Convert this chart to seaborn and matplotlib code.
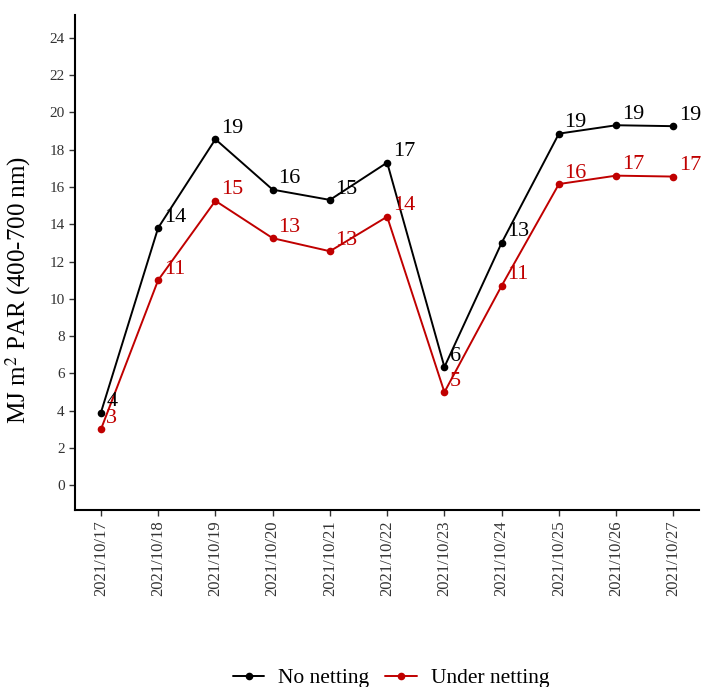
import numpy as np
import pandas as pd
import matplotlib
matplotlib.use("Agg")
import matplotlib.pyplot as plt
import seaborn as sns

dates = ["2021/10/17", "2021/10/18", "2021/10/19", "2021/10/20", "2021/10/21",
         "2021/10/22", "2021/10/23", "2021/10/24", "2021/10/25", "2021/10/26", "2021/10/27"]
no_netting = [3.9, 13.8, 18.55, 15.85, 15.3, 17.3, 6.35, 13.0, 18.85, 19.3, 19.25]
under_netting = [3.0, 11.0, 15.25, 13.25, 12.55, 14.4, 5.0, 10.7, 16.15, 16.6, 16.55]
series_names = ["No netting", "Under netting"]
colors = {"No netting": "#000000", "Under netting": "#C00000"}
y_ticks = list(range(0, 25, 2))

sns.set_style("white")
plt.rcParams["font.family"] = ["Liberation Serif", "DejaVu Serif"]
plt.rcParams["mathtext.fontset"] = "stix"

df = pd.DataFrame({
    "pos": list(range(len(dates))) * 2,
    "value": no_netting + under_netting,
    "group": [series_names[0]] * len(dates) + [series_names[1]] * len(dates),
})

fig = plt.figure(figsize=(7.02, 6.87), dpi=100)
ax = fig.add_axes([0.107, 0.258, 0.889, 0.72])

sns.lineplot(data=df, x="pos", y="value", hue="group", palette=colors,
             marker="o", markersize=5.5, markeredgewidth=0, linewidth=1.4,
             ax=ax, legend=True)

for name, vals in zip(series_names, [no_netting, under_netting]):
    for i, v in enumerate(vals):
        ax.annotate(f"{int(np.floor(v + 0.5))}", (i, v), xytext=(4, 1),
                    textcoords="offset points", ha="left", va="bottom",
                    fontsize=16, color=colors[name])

ax.set_xlim(-0.45, len(dates) - 1 + 0.45)
ax.set_ylim(-1.3, 25.2)
ax.set_xticks(range(len(dates)))
ax.set_xticklabels(dates, rotation=90, fontsize=12)
ax.set_yticks(y_ticks)
ax.set_yticklabels([str(t) for t in y_ticks], fontsize=11)
ax.set_xlabel("")
ax.set_ylabel(r"MJ m$^{2}$ PAR (400-700 nm)", fontsize=18, color="black")
ax.yaxis.set_label_coords(-0.067, 0.445)

for s in ["top", "right"]:
    ax.spines[s].set_visible(False)
for s in ["left", "bottom"]:
    ax.spines[s].set_linewidth(1.5)
    ax.spines[s].set_color("black")
ax.tick_params(axis="both", which="both", length=4, width=1, color="#333333",
               bottom=True, left=True, labelcolor="#333333")

handles, labels = ax.get_legend_handles_labels()
ax.legend_.remove()
leg = fig.legend(handles, labels, loc="center", bbox_to_anchor=(0.557, 0.013), ncol=2,
                 frameon=False, fontsize=15.5, handlelength=1.45, columnspacing=0.75,
                 handletextpad=0.65)
for t in leg.get_texts():
    t.set_color("black")

fig.savefig("out.png", dpi=100)
